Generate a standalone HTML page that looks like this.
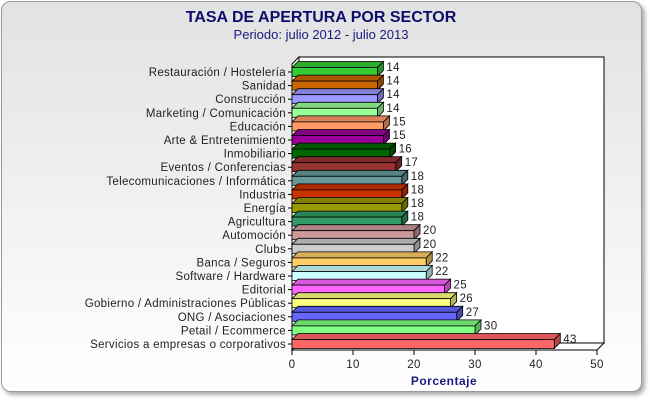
<!DOCTYPE html>
<html><head><meta charset="utf-8"><style>
body{margin:0;width:650px;height:400px;overflow:hidden;background:#fff;font-family:"Liberation Sans",sans-serif}
</style></head><body>
<svg id="c" width="650" height="400" xmlns="http://www.w3.org/2000/svg">
<defs>
<linearGradient id="bg" x1="0" y1="0" x2="0" y2="1"><stop offset="0" stop-color="#e2e2e2"/><stop offset="1" stop-color="#ffffff"/></linearGradient>
<filter id="sh" x="-5%" y="-5%" width="110%" height="110%"><feDropShadow dx="3" dy="3" stdDeviation="2" flood-color="#888" flood-opacity="0.7"/></filter>
</defs>
<rect x="1.5" y="1.5" width="640" height="390" rx="9" fill="url(#bg)" stroke="#999" filter="url(#sh)"/>
<text x="321" y="22" text-anchor="middle" font-size="16" font-weight="bold" fill="#0d0d6b">TASA DE APERTURA POR SECTOR</text>
<text x="321" y="39" text-anchor="middle" font-size="13" fill="#1a1a80">Periodo: julio 2012 - julio 2013</text>
<g id="plot"></g>
<text x="444" y="385" text-anchor="middle" font-size="12" font-weight="bold" fill="#1a1a80" letter-spacing="0.5">Porcentaje</text>
</svg>
<script>
const categories=["Restauración / Hostelería","Sanidad","Construcción","Marketing / Comunicación","Educación","Arte & Entretenimiento","Inmobiliario","Eventos / Conferencias","Telecomunicaciones / Informática","Industria","Energía","Agricultura","Automoción","Clubs","Banca / Seguros","Software / Hardware","Editorial","Gobierno / Administraciones Públicas","ONG / Asociaciones","Petail / Ecommerce","Servicios a empresas o corporativos"];
const values=[14,14,14,14,15,15,16,17,18,18,18,18,20,20,22,22,25,26,27,30,43];
const colors=["#33cc33","#cc6600","#9999ff","#99ff99","#ff9966","#990099","#006600","#993333","#669999","#cc3300","#999900","#339966","#cc9999","#cccccc","#ffcc66","#ccffff","#ff66ff","#ffff80","#6666ff","#80ff80","#ff6666"];
const ticks=[0,10,20,30,40,50];
const NS="http://www.w3.org/2000/svg";
const g=document.getElementById('plot');
const X0=292,X1=597,MAX=50,DX=7,DY=7,FRONT=350,TOP=57;
const x=v=>X0+(X1-X0)*v/MAX;
const rowY=i=>72+i*(344-72)/(categories.length-1);
function shade(c,f){const n=parseInt(c.slice(1),16);let r=n>>16,gg=(n>>8)&255,b=n&255;
 const m=v=>Math.max(0,Math.min(255,Math.round(f<1?v*f:v+(255-v)*(f-1))));return `rgb(${m(r)},${m(gg)},${m(b)})`;}
function el(t,a){const e=document.createElementNS(NS,t);for(const k in a)e.setAttribute(k,a[k]);g.appendChild(e);return e;}
let w=el('polygon',{points:`${X0+DX},${TOP} ${X1+DX},${TOP} ${X1+DX},${FRONT-DY} ${X0+DX},${FRONT-DY}`,fill:'#fff',stroke:'#000','stroke-width':1});


let s=el('polygon',{points:`${X0},${TOP+DY} ${X0+DX},${TOP} ${X0+DX},${FRONT-DY} ${X0},${FRONT}`,fill:'#fff',stroke:'#000','stroke-width':1});


let f=el('polygon',{points:`${X0},${FRONT} ${X0+DX},${FRONT-DY} ${X1+DX},${FRONT-DY} ${X1},${FRONT}`,fill:'#fff',stroke:'#000','stroke-width':1});


ticks.forEach(t=>{
 let l=el('line',{x1:x(t),y1:FRONT,x2:x(t),y2:FRONT+5,stroke:'#000'});
 
 
 let tx=el('text',{x:x(t),y:FRONT+18,'text-anchor':'middle','font-size':11.5,fill:'#222','letter-spacing':0.3});tx.textContent=t;
 
 
});
let ax=el('line',{x1:X0,y1:FRONT,x2:X1,y2:FRONT,stroke:'#000'});


let ay=el('line',{x1:X0,y1:TOP+DY,x2:X0,y2:FRONT,stroke:'#000'});


categories.forEach((c,i)=>{
 const cy=rowY(i),y0=cy-4.5,y1=cy+4.5,xe=x(values[i]),col=colors[i];
 let tk=el('line',{x1:X0-4,y1:cy,x2:X0,y2:cy,stroke:'#000'});
 
 
 let lb=el('text',{x:X0-6,y:cy+4,'text-anchor':'end','font-size':11.5,fill:'#222','letter-spacing':0.3});lb.textContent=c;
 
 
 const d=6;
 let top=el('polygon',{points:`${X0},${y0} ${X0+d},${y0-d} ${xe+d},${y0-d} ${xe},${y0}`,fill:shade(col,0.85),stroke:'#000','stroke-width':0.8});
 
 
 let side=el('polygon',{points:`${xe},${y0} ${xe+d},${y0-d} ${xe+d},${y1-d} ${xe},${y1}`,fill:shade(col,0.7),stroke:'#000','stroke-width':0.8});
 
 
 let fr=el('rect',{x:X0,y:y0,width:xe-X0,height:y1-y0,fill:col,stroke:'#000','stroke-width':0.8});
 
 
 let vl=el('text',{x:xe+d+3,y:cy-1,'font-size':11.5,fill:'#222','letter-spacing':0.3});vl.textContent=values[i];
 
 
});
</script>
</body></html>
